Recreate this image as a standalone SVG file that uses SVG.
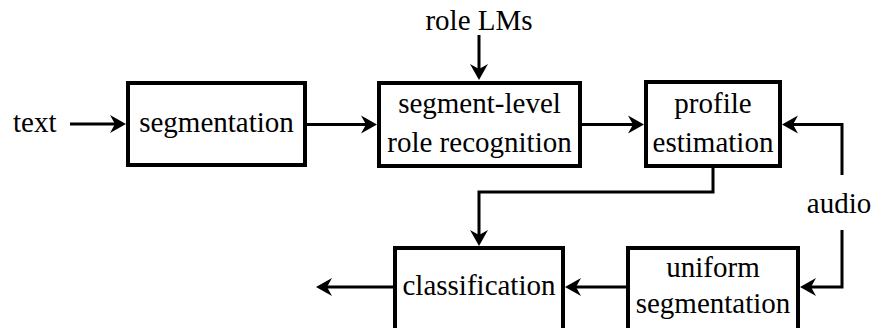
<svg xmlns="http://www.w3.org/2000/svg" width="876" height="328" viewBox="0 0 876 328">
  <style>
    .box { fill: #fff; stroke: #000; stroke-width: 4; }
    .lbl { font-family: "Liberation Serif", "Times New Roman", Tinos, "DejaVu Serif", serif; font-size: 29px; fill: #000; }
    .mid { text-anchor: middle; }
    .wire { fill: none; stroke: #000; stroke-width: 3; stroke-linejoin: miter; }
  </style>
  <defs>
    <!-- filled arrowhead with a notched back; tip sits 6px past the line end -->
    <marker id="head" markerUnits="userSpaceOnUse" markerWidth="18" markerHeight="20" viewBox="0 -10 17 20" refX="10" refY="0" orient="auto">
      <path d="M16,0 L0,-9 L5,0 L0,9 Z" fill="#000"/>
    </marker>
  </defs>

  <rect width="876" height="328" fill="#fff"/>

  <!-- inputs and sources -->
  <text class="lbl" x="13" y="132">text</text>
  <text class="lbl mid" x="479" y="30">role LMs</text>
  <text class="lbl mid" x="839" y="213">audio</text>

  <g id="segmentation">
    <rect class="box" x="128" y="83" width="177" height="82"/>
    <text class="lbl mid" x="216.5" y="132">segmentation</text>
  </g>

  <g id="role-recognition">
    <rect class="box" x="379" y="83" width="201" height="83"/>
    <text class="lbl mid" x="479.5" y="113">segment-level</text>
    <text class="lbl mid" x="479.5" y="152">role recognition</text>
  </g>

  <g id="profile-estimation">
    <rect class="box" x="646" y="82" width="134" height="84"/>
    <text class="lbl mid" x="713" y="113">profile</text>
    <text class="lbl mid" x="713" y="152">estimation</text>
  </g>

  <!-- bottom row boxes run past the lower edge -->
  <g id="classification">
    <rect class="box" x="395" y="248" width="168" height="100"/>
    <text class="lbl mid" x="479" y="295">classification</text>
  </g>

  <g id="uniform-segmentation">
    <rect class="box" x="628" y="248" width="170" height="100"/>
    <text class="lbl mid" x="713" y="277">uniform</text>
    <text class="lbl mid" x="713" y="313">segmentation</text>
  </g>

  <g id="connectors">
    <path class="wire" d="M70,124 H120" marker-end="url(#head)"/>
    <path class="wire" d="M307,124.5 H371" marker-end="url(#head)"/>
    <path class="wire" d="M479,35 V74" marker-end="url(#head)"/>
    <path class="wire" d="M582,124.5 H638" marker-end="url(#head)"/>
    <path class="wire" d="M842,175 V124.5 H788" marker-end="url(#head)"/>
    <path class="wire" d="M713,167 V192 H479 V240" marker-end="url(#head)"/>
    <path class="wire" d="M842,230 V287 H806" marker-end="url(#head)"/>
    <path class="wire" d="M626,287 H571" marker-end="url(#head)"/>
    <path class="wire" d="M393,287 H322" marker-end="url(#head)"/>
  </g>
</svg>
